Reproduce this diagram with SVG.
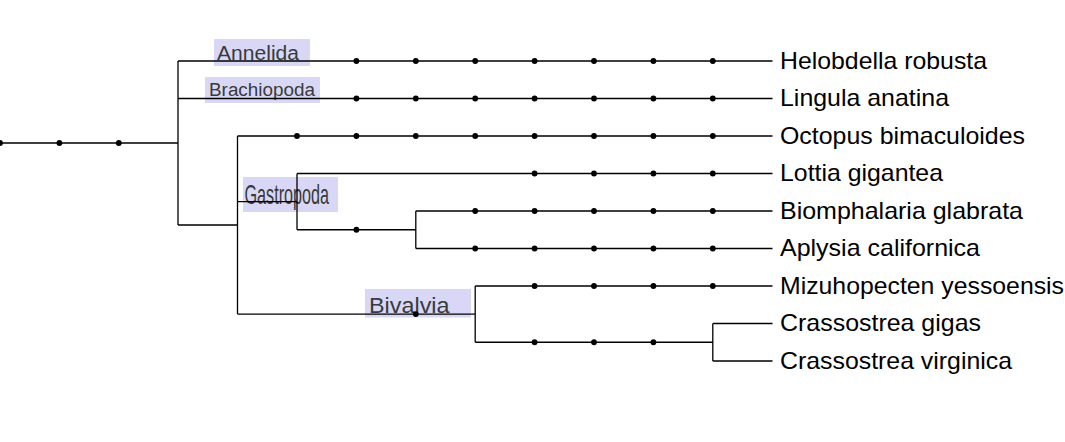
<svg xmlns="http://www.w3.org/2000/svg" width="1065" height="442" viewBox="0 0 1065 442">
<style>
.e{fill:none;stroke:#000;stroke-width:1.3}
.d{fill:#000}
.box{fill:#d8d8f6}
.cl{font-family:"Liberation Sans",Arial,sans-serif;fill:#3a3a3a}
.tip{font-family:"Liberation Sans",Arial,sans-serif;font-size:24px;fill:#000}
</style>
<rect width="1065" height="442" fill="#fff"/>
<g id="clade-labels">
<g id="Annelida"><rect class="box" x="214" y="39" width="96" height="27"/><text class="cl" x="217" y="59.5" font-size="19.5" textLength="82" lengthAdjust="spacingAndGlyphs">Annelida</text></g>
<g id="Brachiopoda"><rect class="box" x="205" y="77" width="115" height="26"/><text class="cl" x="209" y="95.5" font-size="18" textLength="106" lengthAdjust="spacingAndGlyphs">Brachiopoda</text></g>
<g id="Gastropoda"><rect class="box" x="243" y="177" width="95" height="35"/><text class="cl" x="244.5" y="203.5" font-size="28.5" textLength="84.5" lengthAdjust="spacingAndGlyphs">Gastropoda</text></g>
<g id="Bivalvia"><rect class="box" x="365" y="289" width="106" height="28.5"/><text class="cl" x="369" y="312.7" font-size="22.5" textLength="80.5" lengthAdjust="spacingAndGlyphs">Bivalvia</text></g>
</g>
<g id="connectors">
<path class="e" d="M0,143H178 M178,61V225 M178,61H772.5 M178,98.5H772.5 M178,225H237.5 M237.5,136V314.1 M237.5,136H772.5 M237.5,201.6H297 M297,173.5V229.75 M297,173.5H772.5 M297,229.75H415.8 M415.8,211V248.5 M415.8,211H772.5 M415.8,248.5H772.5 M237.5,314.1H475.2 M475.2,286V342.25 M475.2,286H772.5 M475.2,342.25H712.8 M712.8,323.5V361 M712.8,323.5H772.5 M712.8,361H772.5"/>
<g class="d">
<circle cx="0" cy="143" r="2.9"/><circle cx="59.4" cy="143" r="2.9"/><circle cx="118.8" cy="143" r="2.9"/>
<circle cx="356.4" cy="61" r="2.9"/><circle cx="415.8" cy="61" r="2.9"/><circle cx="475.2" cy="61" r="2.9"/><circle cx="534.6" cy="61" r="2.9"/><circle cx="594" cy="61" r="2.9"/><circle cx="653.4" cy="61" r="2.9"/><circle cx="712.8" cy="61" r="2.9"/>
<circle cx="356.4" cy="98.5" r="2.9"/><circle cx="415.8" cy="98.5" r="2.9"/><circle cx="475.2" cy="98.5" r="2.9"/><circle cx="534.6" cy="98.5" r="2.9"/><circle cx="594" cy="98.5" r="2.9"/><circle cx="653.4" cy="98.5" r="2.9"/><circle cx="712.8" cy="98.5" r="2.9"/>
<circle cx="297" cy="136" r="2.9"/><circle cx="356.4" cy="136" r="2.9"/><circle cx="415.8" cy="136" r="2.9"/><circle cx="475.2" cy="136" r="2.9"/><circle cx="534.6" cy="136" r="2.9"/><circle cx="594" cy="136" r="2.9"/><circle cx="653.4" cy="136" r="2.9"/><circle cx="712.8" cy="136" r="2.9"/>
<circle cx="534.6" cy="173.5" r="2.9"/><circle cx="594" cy="173.5" r="2.9"/><circle cx="653.4" cy="173.5" r="2.9"/><circle cx="712.8" cy="173.5" r="2.9"/>
<circle cx="356.4" cy="229.75" r="2.9"/>
<circle cx="475.2" cy="211" r="2.9"/><circle cx="534.6" cy="211" r="2.9"/><circle cx="594" cy="211" r="2.9"/><circle cx="653.4" cy="211" r="2.9"/><circle cx="712.8" cy="211" r="2.9"/>
<circle cx="475.2" cy="248.5" r="2.9"/><circle cx="534.6" cy="248.5" r="2.9"/><circle cx="594" cy="248.5" r="2.9"/><circle cx="653.4" cy="248.5" r="2.9"/><circle cx="712.8" cy="248.5" r="2.9"/>
<circle cx="415.8" cy="314.1" r="2.9"/>
<circle cx="534.6" cy="286" r="2.9"/><circle cx="594" cy="286" r="2.9"/><circle cx="653.4" cy="286" r="2.9"/><circle cx="712.8" cy="286" r="2.9"/>
<circle cx="534.6" cy="342.25" r="2.9"/><circle cx="594" cy="342.25" r="2.9"/><circle cx="653.4" cy="342.25" r="2.9"/>
</g>
</g>
<g id="tips">
<g id="tip-helobdella"><text class="tip" x="780" y="68.5" textLength="207" lengthAdjust="spacingAndGlyphs">Helobdella robusta</text></g>
<g id="tip-lingula"><text class="tip" x="780" y="106" textLength="169" lengthAdjust="spacingAndGlyphs">Lingula anatina</text></g>
<g id="tip-octopus"><text class="tip" x="780" y="143.5" textLength="245" lengthAdjust="spacingAndGlyphs">Octopus bimaculoides</text></g>
<g id="tip-lottia"><text class="tip" x="780" y="181" textLength="163" lengthAdjust="spacingAndGlyphs">Lottia gigantea</text></g>
<g id="tip-biomphalaria"><text class="tip" x="780" y="218.5" textLength="243" lengthAdjust="spacingAndGlyphs">Biomphalaria glabrata</text></g>
<g id="tip-aplysia"><text class="tip" x="780" y="256" textLength="200" lengthAdjust="spacingAndGlyphs">Aplysia californica</text></g>
<g id="tip-mizuhopecten"><text class="tip" x="780" y="293.5" textLength="284" lengthAdjust="spacingAndGlyphs">Mizuhopecten yessoensis</text></g>
<g id="tip-gigas"><text class="tip" x="780" y="331" textLength="201" lengthAdjust="spacingAndGlyphs">Crassostrea gigas</text></g>
<g id="tip-virginica"><text class="tip" x="780" y="368.5" textLength="232" lengthAdjust="spacingAndGlyphs">Crassostrea virginica</text></g>
</g>
</svg>
